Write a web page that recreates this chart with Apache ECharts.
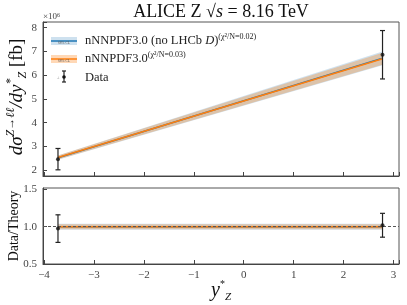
<!DOCTYPE html>
<html><head><meta charset="utf-8">
<script src="https://cdn.jsdelivr.net/npm/echarts@6/dist/echarts.min.js"></script>
<style>html,body{margin:0;padding:0;background:#fff}#c{width:407px;height:305px}</style>
</head><body><div id="c"></div>
<script>
// ---- data (cross-section in units of 1e6 fb) ----
var yStar = [-3.72, 2.78];
var dataVal = [2.46, 6.86];
var dataErr = [0.45, 1.02];
var thNoLHCb = [2.52, 6.71];
var thNoLHCbErr = [0.09, 0.29];
var thNNPDF = [2.53, 6.69];
var thNNPDFErr = [0.08, 0.25];
var ratioData = [0.975, 1.02];
var ratioErr = [0.185, 0.16];
var ratioTh = [1.0, 1.0];
var ratioNoLHCbErr = [0.04, 0.04];
var ratioNNPDFErr = [0.033, 0.033];
var topTicks = [2, 3, 4, 5, 6, 7, 8];
var botTicks = [0.5, 1.0, 1.5];

var FONT = 'Liberation Serif';
var BLUE = '#1f77b4', ORANGE = '#ff7f0e';
var BLUE_F = 'rgba(31,119,180,0.22)', ORANGE_F = 'rgba(255,127,14,0.3)';

function bandData(xs, c, e) {
  var out = [];
  for (var i = 0; i < xs.length - 1; i++) {
    out.push([xs[i], c[i] - e[i], c[i] + e[i], xs[i + 1], c[i + 1] - e[i + 1], c[i + 1] + e[i + 1]]);
  }
  return out;
}
function bandRender(color) {
  return function (params, api) {
    var a = api.coord([api.value(0), api.value(1)]);
    var b = api.coord([api.value(0), api.value(2)]);
    var c = api.coord([api.value(3), api.value(5)]);
    var d = api.coord([api.value(3), api.value(4)]);
    return { type: 'polygon', shape: { points: [a, b, c, d] }, style: { fill: color } };
  };
}
function errRender(params, api) {
  var x = api.value(0), y = api.value(1), e = api.value(2);
  var t = api.coord([x, y + e]), b = api.coord([x, y - e]);
  var w = 2.5, st = { stroke: '#222', lineWidth: 1.2 };
  return { type: 'group', children: [
    { type: 'line', shape: { x1: t[0], y1: t[1], x2: b[0], y2: b[1] }, style: st },
    { type: 'line', shape: { x1: t[0] - w, y1: t[1], x2: t[0] + w, y2: t[1] }, style: st },
    { type: 'line', shape: { x1: b[0] - w, y1: b[1], x2: b[0] + w, y2: b[1] }, style: st }
  ] };
}
function pts(xs, ys) { return xs.map(function (x, i) { return [x, ys[i]]; }); }
function errPts(xs, ys, es) { return xs.map(function (x, i) { return [x, ys[i], es[i]]; }); }

var tickLabel = { fontFamily: FONT, fontSize: 11, color: '#444' };
function xFmt(v) {
  if (Math.abs(v - Math.round(v)) > 1e-6) return '';
  return v < 0 ? '\u2212' + Math.abs(v) : String(v);
}
var chart = echarts.init(document.getElementById('c'));
chart.setOption({
  animation: false,
  grid: [
    { left: 43, right: 8, top: 22, height: 154, show: true, borderColor: '#555', borderWidth: 1 },
    { left: 43, right: 8, top: 188, height: 76, show: true, borderColor: '#555', borderWidth: 1 }
  ],
  xAxis: [
    { type: 'value', gridIndex: 0, min: -4.02, max: 3.11,
      axisLine: { onZero: false, lineStyle: { color: '#444' } },
      axisTick: { inside: true, length: 4, lineStyle: { color: '#444' } },
      axisLabel: { show: false }, splitLine: { show: false } },
    { type: 'value', gridIndex: 1, min: -4.02, max: 3.11,
      axisLine: { onZero: false, lineStyle: { color: '#444' } },
      axisTick: { inside: true, length: 4, lineStyle: { color: '#444' } },
      axisLabel: Object.assign({ margin: 6, formatter: xFmt }, tickLabel), splitLine: { show: false } }
  ],
  yAxis: [
    { type: 'value', gridIndex: 0, min: 1.75, max: 8.24,
      axisLine: { show: true, onZero: false, lineStyle: { color: '#444' } },
      axisTick: { show: true, inside: true, length: 4, lineStyle: { color: '#444' } },
      axisLabel: Object.assign({ margin: 6, customValues: topTicks }, tickLabel),
      splitLine: { show: false } },
    { type: 'value', gridIndex: 1, min: 0.5, max: 1.52,
      axisLine: { show: true, onZero: false, lineStyle: { color: '#444' } },
      axisTick: { show: true, inside: true, length: 4, lineStyle: { color: '#444' }, customValues: botTicks },
      axisLabel: Object.assign({ margin: 6, customValues: botTicks, formatter: function (v) { return v.toFixed(1); } }, tickLabel),
      splitLine: { show: false } }
  ],
  series: [
    { type: 'custom', xAxisIndex: 0, yAxisIndex: 0, renderItem: bandRender(BLUE_F), data: bandData(yStar, thNoLHCb, thNoLHCbErr), encode: { x: [0, 3], y: [1, 2, 4, 5] }, z: 1, silent: true },
    { type: 'custom', xAxisIndex: 0, yAxisIndex: 0, renderItem: bandRender(ORANGE_F), data: bandData(yStar, thNNPDF, thNNPDFErr), encode: { x: [0, 3], y: [1, 2, 4, 5] }, z: 2, silent: true },
    { type: 'line', xAxisIndex: 0, yAxisIndex: 0, data: pts(yStar, thNoLHCb), symbol: 'none', lineStyle: { color: BLUE, width: 1.5 }, z: 3 },
    { type: 'line', xAxisIndex: 0, yAxisIndex: 0, data: pts(yStar, thNNPDF), symbol: 'none', lineStyle: { color: ORANGE, width: 1.5 }, z: 4 },
    { type: 'custom', xAxisIndex: 0, yAxisIndex: 0, renderItem: errRender, data: errPts(yStar, dataVal, dataErr), encode: { x: 0, y: 1 }, z: 5 },
    { type: 'scatter', xAxisIndex: 0, yAxisIndex: 0, data: pts(yStar, dataVal), symbolSize: 4, itemStyle: { color: '#111' }, z: 6 },

    { type: 'custom', xAxisIndex: 1, yAxisIndex: 1, renderItem: bandRender(BLUE_F), data: bandData(yStar, ratioTh, ratioNoLHCbErr), encode: { x: [0, 3], y: [1, 2, 4, 5] }, z: 1, silent: true },
    { type: 'custom', xAxisIndex: 1, yAxisIndex: 1, renderItem: bandRender(ORANGE_F), data: bandData(yStar, ratioTh, ratioNNPDFErr), encode: { x: [0, 3], y: [1, 2, 4, 5] }, z: 2, silent: true },
    { type: 'line', xAxisIndex: 1, yAxisIndex: 1, data: pts(yStar, ratioTh), symbol: 'none', lineStyle: { color: BLUE, width: 1.5 }, z: 3 },
    { type: 'line', xAxisIndex: 1, yAxisIndex: 1, data: pts(yStar, ratioTh), symbol: 'none', lineStyle: { color: ORANGE, width: 1.5 }, z: 4,
      markLine: { silent: true, symbol: 'none', label: { show: false }, lineStyle: { color: '#555', type: [3, 2], width: 1.2 }, data: [{ yAxis: 1 }] } },
    { type: 'custom', xAxisIndex: 1, yAxisIndex: 1, renderItem: errRender, data: errPts(yStar, ratioData, ratioErr), encode: { x: 0, y: 1 }, z: 5 },
    { type: 'scatter', xAxisIndex: 1, yAxisIndex: 1, data: pts(yStar, ratioData), symbolSize: 4, itemStyle: { color: '#111' }, z: 6 }
  ],
  graphic: [
    { type: 'text', x: 221, y: 12, style: { text: '{n|ALICE Z }{n|\u221A}{i|s}{n| = 8.16 TeV}', align: 'center', verticalAlign: 'middle',
      rich: { n: { fontFamily: FONT, fontSize: 18, fill: '#111' }, i: { fontFamily: FONT, fontSize: 18, fontStyle: 'italic', fill: '#111' } } } },
    { type: 'text', x: 43, y: 17, style: { text: '{n|\u00D710}{s|6}', align: 'left', verticalAlign: 'middle',
      rich: { n: { fontFamily: FONT, fontSize: 9, fill: '#444' }, s: { fontFamily: FONT, fontSize: 6, fill: '#444', verticalAlign: 'top' } } } },
    { type: 'text', x: 17, y: 97, rotation: Math.PI / 2, style: {
      text: '{i|d\u03C3}{sup|Z\u2192\u2113\u2113}{i|/dy}{sup|*}{sub|Z}{n| [fb]}', align: 'center', verticalAlign: 'middle',
      rich: { i: { fontFamily: FONT, fontSize: 19, fontStyle: 'italic', fill: '#111', lineHeight: 24 },
              n: { fontFamily: FONT, fontSize: 19, fill: '#111', lineHeight: 24 },
              sup: { fontFamily: FONT, fontSize: 12, fontStyle: 'italic', fill: '#111', verticalAlign: 'top' },
              sub: { fontFamily: FONT, fontSize: 12, fontStyle: 'italic', fill: '#111', verticalAlign: 'bottom' } } } },
    { type: 'text', x: 14, y: 226, rotation: Math.PI / 2, style: { text: 'Data/Theory', align: 'center', verticalAlign: 'middle',
      fontFamily: FONT, fontSize: 14, fill: '#111' } },
    { type: 'text', x: 221, y: 291, style: {
      text: '{i|y}{sup|*}{sub|Z}', align: 'center', verticalAlign: 'middle',
      rich: { i: { fontFamily: FONT, fontSize: 20, fontStyle: 'italic', fill: '#111', lineHeight: 24 },
              sup: { fontFamily: FONT, fontSize: 10, fill: '#111', verticalAlign: 'top' },
              sub: { fontFamily: FONT, fontSize: 11, fontStyle: 'italic', fill: '#111', verticalAlign: 'bottom' } } } },
    { type: 'rect', shape: { x: 51, y: 37, width: 26, height: 8 }, style: { fill: BLUE_F } },
    { type: 'line', shape: { x1: 51, y1: 41, x2: 77, y2: 41 }, style: { stroke: BLUE, lineWidth: 1.5 } },
    { type: 'text', x: 64, y: 43.5, style: { text: '68% CL', fontSize: 3.5, fontFamily: FONT, fill: '#555', align: 'center', verticalAlign: 'middle' } },
    { type: 'text', x: 85, y: 41, style: { text: '{n|nNNPDF3.0 (no LHCb }{i|D}{n|)}{s|(\u03C7\u00B2/N=0.02)}', verticalAlign: 'middle',
      rich: { n: { fontFamily: FONT, fontSize: 12.5, fill: '#222', lineHeight: 16 }, i: { fontFamily: FONT, fontSize: 12.5, fontStyle: 'italic', fill: '#222', lineHeight: 16 },
              s: { fontFamily: FONT, fontSize: 8, fill: '#222', verticalAlign: 'top' } } } },
    { type: 'rect', shape: { x: 51, y: 55, width: 26, height: 8 }, style: { fill: ORANGE_F } },
    { type: 'line', shape: { x1: 51, y1: 59, x2: 77, y2: 59 }, style: { stroke: ORANGE, lineWidth: 1.5 } },
    { type: 'text', x: 64, y: 61.5, style: { text: '68% CL', fontSize: 3.5, fontFamily: FONT, fill: '#555', align: 'center', verticalAlign: 'middle' } },
    { type: 'text', x: 85, y: 59, style: { text: '{n|nNNPDF3.0}{s|(\u03C7\u00B2/N=0.03)}', verticalAlign: 'middle',
      rich: { n: { fontFamily: FONT, fontSize: 12.5, fill: '#222', lineHeight: 16 }, s: { fontFamily: FONT, fontSize: 8, fill: '#222', verticalAlign: 'top' } } } },
    { type: 'line', shape: { x1: 64, y1: 71, x2: 64, y2: 82 }, style: { stroke: '#222', lineWidth: 1.2 } },
    { type: 'line', shape: { x1: 62, y1: 71, x2: 66, y2: 71 }, style: { stroke: '#222', lineWidth: 1.2 } },
    { type: 'line', shape: { x1: 62, y1: 82, x2: 66, y2: 82 }, style: { stroke: '#222', lineWidth: 1.2 } },
    { type: 'circle', shape: { cx: 64, cy: 77, r: 1.8 }, style: { fill: '#111' } },
    { type: 'text', x: 58, y: 77.5, style: { text: '\u00B1', fontSize: 5, fontFamily: FONT, fill: '#888', align: 'center', verticalAlign: 'middle' } },
    { type: 'text', x: 85, y: 77.5, style: { text: 'Data', fontFamily: FONT, fontSize: 12.5, fill: '#222', verticalAlign: 'middle' } }
  ]
});
// safety net: if the top axis labels did not render, draw them at the axis' own pixel positions
try {
  var found = 0;
  chart.getZr().storage.getDisplayList(true, false).forEach(function (el) {
    if (el.style && /^[5-8]$/.test(el.style.text || '') && !el.invisible && el.style.opacity !== 0) found++;
  });
  if (found < 4) {
    var extra = topTicks.map(function (t) {
      var p = chart.convertToPixel({ xAxisIndex: 0, yAxisIndex: 0 }, [-4.02, t]);
      return { type: 'text', x: p[0] - 6, y: p[1], style: { text: String(t), align: 'right', verticalAlign: 'middle', fontFamily: FONT, fontSize: 11, fill: '#444' } };
    });
    var g = chart.getOption().graphic[0].elements.length;
    chart.setOption({ graphic: extra.map(function (e, i) { e.id = 'yl' + i; return e; }) });
  }
} catch (e) {}
</script></body></html>
